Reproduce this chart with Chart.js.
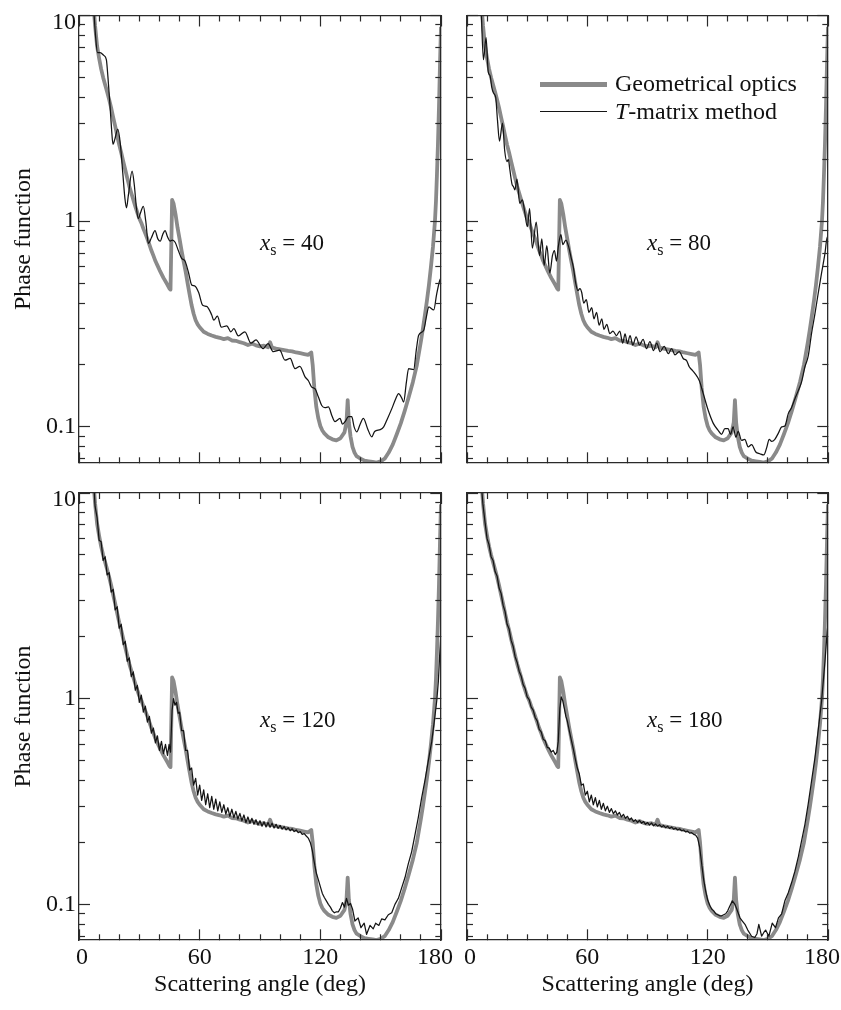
<!DOCTYPE html>
<html>
<head>
<meta charset="utf-8">
<title>Phase function: geometrical optics vs T-matrix</title>
<script src="https://cdn.jsdelivr.net/npm/chart.js@4.4.1/dist/chart.umd.min.js"></script>
<style>
  html, body { margin:0; padding:0; background:#fff; }
  #fig { position:relative; width:841px; height:1010px; overflow:hidden; background:#fff;
         font-family:"Liberation Serif","Times New Roman",serif; color:#111; }
  #fig canvas { position:absolute; left:-100px; top:-100px; }
  .ann { position:absolute; font-size:23px; line-height:23px; white-space:nowrap; }
  .ann sub { font-size:16px; line-height:0; vertical-align:-5px; }
  .legtxt { position:absolute; font-size:24px; line-height:24px; white-space:nowrap; }
  .legline { position:absolute; }
</style>
</head>
<body>
<div id="fig">
  <canvas id="p0" width="1041" height="1210"></canvas>
  <canvas id="p1" width="1041" height="1210"></canvas>
  <canvas id="p2" width="1041" height="1210"></canvas>
  <canvas id="p3" width="1041" height="1210"></canvas>
</div>
<script>
// ---------------- DATA ----------------
const xTicks  = [0,10,20,30,40,50,60,70,80,90,100,110,120,130,140,150,160,170,180];
const xLabels = [0,60,120,180];
const yTicks  = [0.07,0.08,0.09,0.1,0.2,0.3,0.4,0.5,0.6,0.7,0.8,0.9,1,2,3,4,5,6,7,8,9,10];
const yLabels = [0.1,1,10];
const yMin = 0.0671, yMax = 10;
const sizeParams = [40, 80, 120, 180];
const seriesNames = ['Geometrical optics', 'T-matrix method'];

// Geometrical optics (same in every panel)
const goAngles = [
  5,6,7,8,9,10,11,12,13,14,
  15,16,17,18,19,20,21,22,23,24,
  25,26,27,28,29,30,31,32,33,34,
  35,36,37,38,39,40,41,42,43,44,
  45,45.5,46.3,47,48,49,50,51,52,53,
  54,55,56,57,58,59,60,62,64,66,
  68,70,72,74,76,78,80,82,84,86,
  88,90,92,94,95,96,98,100,102,104,
  106,108,110,112,114,115.5,116.2,117,118,119,
  120,121,122,124,126,128,130,132,133,133.6,
  134.2,135,136,137,138,140,142,144,146,148,
  150,152,154,156,158,160,162,164,166,168,
  170,171,172,173,174,175,176,177,177.5,178,
  178.5,179,179.5,180];
const goValues = [
  26,17,12,8.9,7.1,6.2,5.5,5.0,4.6,4.25,
  3.9,3.55,3.2,2.9,2.6,2.35,2.15,1.95,1.78,1.62,
  1.48,1.37,1.27,1.18,1.10,1.03,0.98,0.92,0.87,0.82,
  0.77,0.72,0.68,0.64,0.61,0.58,0.555,0.53,0.51,0.49,
  0.47,0.465,1.27,1.22,1.08,0.93,0.82,0.72,0.64,0.57,
  0.50,0.44,0.39,0.355,0.33,0.315,0.305,0.29,0.283,0.278,
  0.274,0.271,0.267,0.27,0.263,0.262,0.258,0.255,0.25,0.254,
  0.249,0.246,0.248,0.244,0.258,0.243,0.24,0.238,0.236,0.234,
  0.233,0.23,0.228,0.226,0.224,0.23,0.2,0.155,0.125,0.11,
  0.101,0.096,0.093,0.089,0.087,0.086,0.088,0.094,0.105,0.135,
  0.105,0.09,0.08,0.075,0.072,0.07,0.0685,0.068,0.0675,0.067,
  0.068,0.07,0.075,0.082,0.092,0.104,0.12,0.14,0.165,0.2,
  0.26,0.3,0.35,0.41,0.49,0.6,0.75,1.0,1.25,1.7,
  2.4,3.6,5.8,8.8];

// T-matrix, x_s = 40
const tm40Angles = [
  7.4,8.2,9.2,10.5,12.3,13.6,14.4,15.3,16.2,16.9,
  17.8,19.3,20.5,21.8,22.8,23.6,24.6,26.4,27.5,28.6,
  29.5,30.6,32.0,33.2,34.5,36.0,37.8,39.2,40.4,41.6,
  42.8,44.0,45.3,46.5,47.8,49.4,51.0,52.7,54.5,56.0,
  57.5,59.5,61.5,63.5,66.0,67.0,68.8,70.8,73.5,75.5,
  77.0,79.2,82.5,85.5,88.0,91.5,94.0,96.6,99.8,102.4,
  105.0,107.4,109.8,112.4,114.0,115.7,117.4,119.0,120.7,122.3,
  124.0,125.8,127.3,129.8,131.0,132.3,134.0,135.6,136.8,138.1,
  139.8,141.4,143.5,145.6,147.0,149.8,151.5,153.1,155.6,157.5,
  158.9,160.5,161.4,162.8,163.9,166.4,167.8,168.9,171.4,172.8,
  173.9,176.4,177.8,179.4,180];
const tm40Values = [
  10.5,8.0,6.6,6.6,6.4,6.1,5.0,3.8,2.8,2.36,
  2.5,2.8,2.4,1.7,1.3,1.16,1.35,1.75,1.5,1.15,
  1.03,1.1,1.18,1.0,0.78,0.83,0.9,0.82,0.8,0.86,
  0.9,0.84,0.8,0.81,0.79,0.72,0.66,0.64,0.56,0.49,
  0.485,0.45,0.39,0.385,0.35,0.33,0.345,0.305,0.31,0.29,
  0.3,0.277,0.29,0.255,0.265,0.24,0.254,0.232,0.236,0.211,
  0.215,0.192,0.197,0.175,0.168,0.156,0.153,0.14,0.127,0.124,
  0.125,0.113,0.106,0.11,0.103,0.106,0.112,0.112,0.1,0.0946,
  0.103,0.11,0.098,0.0894,0.095,0.097,0.1,0.108,0.123,0.137,
  0.145,0.138,0.132,0.165,0.192,0.19,0.24,0.279,0.295,0.345,
  0.383,0.37,0.44,0.516,0.53];

// T-matrix, x_s = 80
const tm80Angles = [
  7.1,8.2,9.5,10.6,11.5,12.3,13.2,14.3,15.2,16.2,
  17.7,18.8,19.9,20.6,21.3,22.4,23.2,23.9,24.9,26.3,
  27.6,28.7,30.1,31.2,32.6,34.5,36.2,37.3,38.5,39.8,
  41.3,42.6,43.6,44.6,45.6,46.8,47.8,49.3,50.7,52.0,
  53.0,54.2,55.3,56.3,57.2,58.2,59.5,60.8,62.2,63.3,
  64.6,65.9,67.2,68.3,69.7,71.2,72.8,74.5,76.2,77.6,
  78.8,80.0,81.3,82.7,84.3,86.0,87.8,89.5,91.2,93.0,
  94.6,96.3,98.3,100.4,102.0,103.7,105.8,107.8,109.5,110.8,
  112.0,113.6,115.8,117.8,120.3,122.8,125.3,126.9,128.6,130.2,
  131.4,132.7,134.1,135.2,136.9,138.5,140.2,141.9,144.0,146.0,
  148.0,149.4,150.7,151.9,153.5,155.2,156.9,158.5,160.2,161.8,
  163.5,165.2,166.8,168.5,170.1,171.8,173.5,175.1,176.8,177.6,
  178.5,179.3,180];
const tm80Values = [
  10.5,6.1,7.8,5.3,5.1,4.5,4.2,4.0,3.1,2.45,
  3.0,2.2,1.95,2.0,1.8,1.52,1.47,1.42,1.6,1.22,
  1.27,1.12,0.94,1.15,0.74,0.99,0.68,0.82,0.61,0.76,
  0.56,0.68,0.72,0.64,0.76,0.86,0.77,0.81,0.75,0.66,
  0.6,0.5,0.46,0.47,0.45,0.4,0.415,0.36,0.38,0.335,
  0.36,0.312,0.335,0.298,0.315,0.284,0.292,0.278,0.292,0.255,
  0.283,0.254,0.278,0.25,0.274,0.25,0.266,0.24,0.26,0.235,
  0.255,0.232,0.246,0.227,0.24,0.224,0.232,0.215,0.21,0.196,
  0.19,0.182,0.168,0.145,0.12,0.104,0.096,0.092,0.098,0.098,
  0.092,0.1,0.089,0.095,0.086,0.087,0.08,0.082,0.0755,0.074,
  0.073,0.079,0.087,0.085,0.087,0.093,0.1,0.101,0.116,0.124,
  0.137,0.15,0.165,0.196,0.22,0.285,0.355,0.445,0.56,0.62,
  0.7,0.81,0.85];

// T-matrix, x_s = 120
const tm120Angles = [
  7.5,8,9,10,11,12,13,14,15,16,
  17,18,19,20,21,22,23,24,25,26,
  27,28,29,30,31,32,33,34,35,36,
  37,38,39,40,41,42,43,44,44.8,45.5,
  46.3,47,47.7,48.5,49.3,50,51,52,53,54,
  55,56,57,58,59,60,61,62,63,64,
  65,66,67,68,69,70,71,72,73,74,
  75,76,77,78,79,80,81,82,83,84,
  85,86,87,88,89,90,91,92,93,94,
  95,96,97,98,99,100,101,102,103,104,
  105,106,107,108,109,110,111,112,113,114,
  115,116,117,118,119,120,121,122,123,124,
  125,126,127,128,129,130,131,132,133,134,
  135,136,137.2,138.8,140.2,141.8,143,144.7,146.3,147.5,
  149.1,150.5,152.1,153.8,155.5,157.1,158.8,160.4,162.1,163.7,
  165.4,167.1,168.7,170.4,172,173.7,175.4,176.7,177.9,178.7,
  179.3,180];
const tm120Values = [
  10.5,8.6,7.6,5.9,5.8,4.7,4.9,4.0,4.1,3.3,
  3.4,2.7,2.8,2.2,2.3,1.83,1.9,1.52,1.58,1.28,
  1.35,1.1,1.16,0.96,1.04,0.86,0.92,0.77,0.82,0.68,
  0.72,0.61,0.66,0.56,0.62,0.54,0.6,0.53,0.6,0.55,
  0.88,1.0,0.93,0.96,0.85,0.86,0.7,0.7,0.56,0.56,
  0.45,0.46,0.38,0.41,0.34,0.38,0.32,0.36,0.305,0.345,
  0.295,0.335,0.29,0.325,0.285,0.315,0.28,0.305,0.275,0.295,
  0.268,0.29,0.264,0.283,0.26,0.277,0.255,0.272,0.25,0.266,
  0.248,0.262,0.245,0.258,0.243,0.255,0.24,0.252,0.238,0.25,
  0.237,0.248,0.235,0.245,0.234,0.242,0.232,0.239,0.23,0.236,
  0.228,0.233,0.226,0.23,0.223,0.226,0.219,0.221,0.215,0.21,
  0.2,0.183,0.16,0.142,0.132,0.122,0.113,0.108,0.104,0.1,
  0.097,0.093,0.091,0.092,0.092,0.096,0.102,0.097,0.107,0.099,
  0.101,0.095,0.083,0.086,0.077,0.081,0.0715,0.079,0.076,0.081,
  0.079,0.085,0.084,0.089,0.091,0.1,0.107,0.12,0.135,0.157,
  0.18,0.219,0.264,0.33,0.4,0.5,0.62,0.78,0.98,1.22,
  1.6,2.1];

// T-matrix, x_s = 180
const tm180Angles = [
  7.3,8,9,10,11,12,13,14,15,16,
  17,18,19,20,21,22,23,24,25,26,
  27,28,29,30,31,32,33,34,35,36,
  37,38,39,40,41,42,43,44,44.8,45.5,
  46.3,47,47.7,48.5,49.3,50,51,52,53,54,
  55,56,57,58,59,60,61,62,63,64,
  65,66,67,68,69,70,71,72,73,74,
  75,76,77,78,79,80,81,82,83,84,
  85,86,87,88,89,90,91,92,93,94,
  95,96,97,98,99,100,101,102,103,104,
  105,106,107,108,109,110,111,112,113,114,
  115,116,117,118,119,120,121,122,123,124,
  125,126,127,128,129,130,131,132.3,133.6,134.5,
  136.1,137.3,138.6,140,141.9,143.5,144.6,145.5,146.9,148,
  148.9,150.5,152.2,153.8,155.3,156.9,158.5,160.2,161.9,163.5,
  165.2,166.8,168.5,170.1,171.8,173.5,175.1,176.8,178.5,179.6,
  180];
const tm180Values = [
  10.5,8.7,7.2,6.0,5.6,4.9,4.7,4.15,3.95,3.45,
  3.25,2.85,2.65,2.3,2.18,1.92,1.8,1.6,1.5,1.36,
  1.29,1.17,1.12,1.02,0.99,0.91,0.88,0.81,0.78,0.71,
  0.69,0.635,0.625,0.58,0.575,0.55,0.56,0.535,0.55,0.62,
  0.9,1.02,0.98,0.9,0.82,0.78,0.7,0.63,0.57,0.51,
  0.46,0.43,0.38,0.385,0.34,0.355,0.315,0.34,0.305,0.33,
  0.298,0.32,0.29,0.31,0.285,0.3,0.28,0.292,0.276,0.285,
  0.272,0.28,0.266,0.274,0.262,0.268,0.257,0.263,0.253,0.258,
  0.25,0.256,0.248,0.253,0.245,0.25,0.243,0.249,0.241,0.246,
  0.24,0.244,0.238,0.242,0.236,0.24,0.234,0.238,0.232,0.235,
  0.23,0.233,0.228,0.23,0.225,0.227,0.222,0.223,0.219,0.217,
  0.21,0.19,0.158,0.132,0.116,0.105,0.099,0.095,0.093,0.09,
  0.089,0.088,0.088,0.089,0.09,0.093,0.098,0.104,0.1,0.095,
  0.086,0.083,0.08,0.075,0.07,0.069,0.072,0.08,0.07,0.073,
  0.075,0.07,0.081,0.077,0.086,0.09,0.104,0.114,0.128,0.145,
  0.17,0.203,0.245,0.306,0.398,0.517,0.7,0.975,1.52,2.13,
  2.3];

// ---------------- LAYOUT / STYLE ----------------
const FONT = "'Liberation Serif','Times New Roman',serif";
const INK = '#111';
const AXIS = '#2a2a2a';
const GRAY = '#8a8a8a';
const OFF = 100;                 // canvas is shifted by -OFF on both axes
const CW = 1041, CH = 1210;      // canvas size

const PANELS = [
  { canvas:'p0', rect:[79,15.5,441,462.5],  tmA:tm40Angles,  tmV:tm40Values,  xLab:false, yLab:true,  smooth:true,  ann:[260,231] },
  { canvas:'p1', rect:[467,15.5,828,462.5], tmA:tm80Angles,  tmV:tm80Values,  xLab:false, yLab:false, smooth:true,  ann:[647,231] },
  { canvas:'p2', rect:[79,493,441,940],     tmA:tm120Angles, tmV:tm120Values, xLab:true,  yLab:true,  smooth:false, ann:[260,708] },
  { canvas:'p3', rect:[467,493,828,940],    tmA:tm180Angles, tmV:tm180Values, xLab:true,  yLab:false, smooth:false, ann:[647,708] }
];

Chart.defaults.font.family = FONT;
Chart.defaults.color = INK;

const YW = 74, Y2W = 24, X2H = 20, XH = 63;
const MAJ = 11, MIN = 6, GAP = 20;
const isMajorX = v => v % 60 === 0;
const isMajorY = v => v === 0.1 || v === 1 || v === 10;

function toXY(a, v) { return a.map((x, i) => ({ x: x, y: v[i] })); }
function xLabel(v) {
  if (!xLabels.includes(v)) return '';
  if (v === 0) return ' 0';
  if (v === 180) return '180\u2002';
  return String(v);
}

function gridFor(isMajor, borderFirst) {
  return {
    display: true, drawOnChartArea: false, drawTicks: true,
    tickLength: -MAJ, tickColor: AXIS, tickWidth: 1.2,
    tickBorderDash: [MAJ, GAP],
    tickBorderDashOffset: (c) => (c.tick && !isMajor(c.tick.value)) ? (borderFirst ? MAJ - MIN : MAJ + GAP - (MAJ - MIN)) : 0,
    z: 1
  };
}
const border = { display: true, color: AXIS, width: 1.3, z: 1 };
const setX = s => { s.ticks = xTicks.map(v => ({ value: v })); };
const setY = s => { s.ticks = yTicks.map(v => ({ value: v })); };

function build(P) {
  const l = P.rect[0] + OFF, t = P.rect[1] + OFF, r = P.rect[2] + OFF, b = P.rect[3] + OFF;
  return new Chart(document.getElementById(P.canvas), {
    type: 'line',
    data: {
      datasets: [
        { label: seriesNames[1], data: toXY(P.tmA, P.tmV), borderColor: '#141414', borderWidth: 1.25,
          pointRadius: 0, fill: false, clip: 0, borderJoinStyle: 'round',
          cubicInterpolationMode: P.smooth ? 'monotone' : 'default', tension: 0 },
        { label: seriesNames[0], data: toXY(goAngles, goValues), borderColor: GRAY, borderWidth: 3.8,
          pointRadius: 0, fill: false, clip: 0, borderJoinStyle: 'round', tension: 0 }
      ]
    },
    options: {
      responsive: false, maintainAspectRatio: false, animation: false, devicePixelRatio: 1, events: [],
      layout: { padding: { left: l - YW, top: t - X2H, right: CW - r - Y2W, bottom: CH - b - XH } },
      plugins: { legend: { display: false }, tooltip: { enabled: false } },
      scales: {
        x: {
          type: 'linear', position: 'bottom', min: 0, max: 180, bounds: 'data',
          afterBuildTicks: setX, afterFit: s => { s.height = XH; },
          grid: gridFor(isMajorX, true), border: border,
          ticks: { display: P.xLab, autoSkip: false, maxRotation: 0, minRotation: 0, padding: 14,
                   color: INK, font: { size: 24 }, callback: xLabel },
          title: { display: P.xLab, text: 'Scattering angle (deg)', color: INK, font: { size: 24 },
                   padding: { top: 0, bottom: 4 } }
        },
        x2: {
          type: 'linear', position: 'top', min: 0, max: 180, bounds: 'data',
          afterBuildTicks: setX, afterFit: s => { s.height = X2H; },
          grid: gridFor(isMajorX, false), border: border,
          ticks: { display: false, autoSkip: false }
        },
        y: {
          type: 'logarithmic', position: 'left', min: yMin, max: yMax, bounds: 'data',
          afterBuildTicks: setY, afterFit: s => { s.width = YW; },
          grid: gridFor(isMajorY, false), border: border,
          ticks: { display: P.yLab, autoSkip: false, padding: 14, color: INK,
                   font: c => (c.tick && c.tick.value === 10) ? { size: 24, lineHeight: 0.56 } : { size: 24 },
                   callback: v => yLabels.includes(v) ? (v === 10 ? ['', '10'] : String(v)) : '' },
          title: { display: P.yLab, text: 'Phase function', color: INK, font: { size: 24 },
                   padding: { top: 4, bottom: 0 } }
        },
        y2: {
          type: 'logarithmic', position: 'right', min: yMin, max: yMax, bounds: 'data',
          afterBuildTicks: setY, afterFit: s => { s.width = Y2W; },
          grid: gridFor(isMajorY, true), border: border,
          ticks: { display: false, autoSkip: false }
        }
      }
    }
  });
}

const fig = document.getElementById('fig');
PANELS.forEach((P, i) => {
  build(P);
  const d = document.createElement('div');
  d.className = 'ann';
  d.style.left = P.ann[0] + 'px';
  d.style.top = P.ann[1] + 'px';
  d.innerHTML = '<i>x</i><sub>s</sub> = ' + sizeParams[i];
  fig.appendChild(d);
});

// legend (inside the upper-right panel)
(function () {
  const g = document.createElement('div');
  g.className = 'legline';
  g.style.cssText = 'left:540px;top:81.5px;width:67px;height:5px;background:' + GRAY;
  fig.appendChild(g);
  const k = document.createElement('div');
  k.className = 'legline';
  k.style.cssText = 'left:540px;top:110.5px;width:67px;height:1.4px;background:#141414';
  fig.appendChild(k);
  const t1 = document.createElement('div');
  t1.className = 'legtxt';
  t1.style.cssText = 'left:615px;top:71px';
  t1.textContent = seriesNames[0];
  fig.appendChild(t1);
  const t2 = document.createElement('div');
  t2.className = 'legtxt';
  t2.style.cssText = 'left:615px;top:99px';
  t2.innerHTML = '<i>T</i>' + seriesNames[1].slice(1);
  fig.appendChild(t2);
})();
</script>
</body>
</html>
